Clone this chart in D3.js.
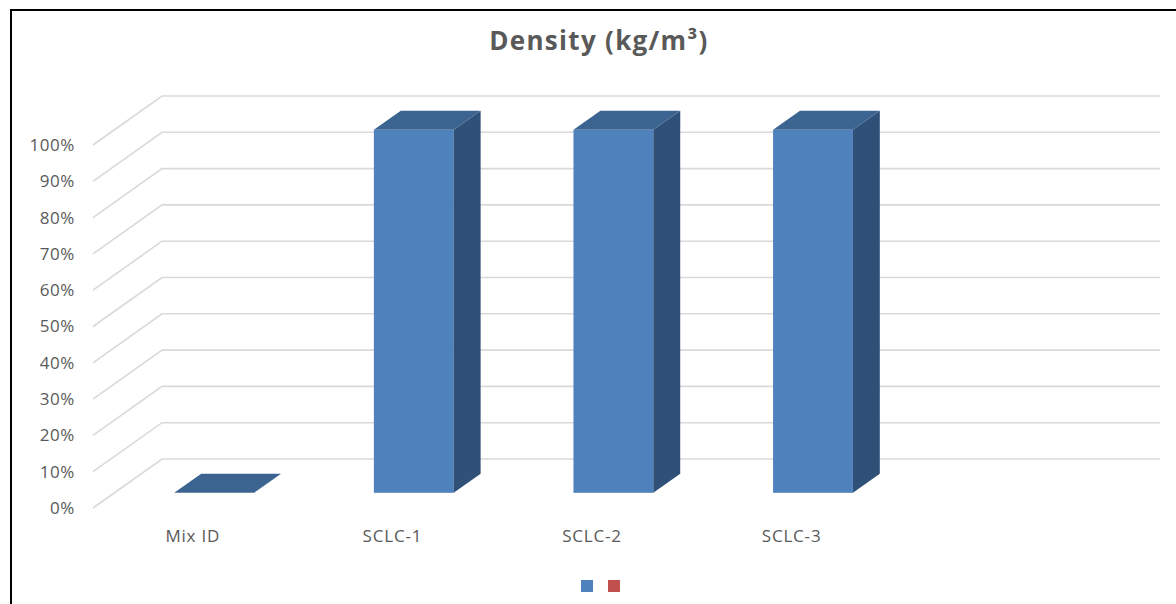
<!DOCTYPE html>
<html>
<head>
<meta charset="utf-8">
<script src="https://cdn.jsdelivr.net/npm/d3@7"></script>
<style>
  body { margin: 0; background: #fff; }
  svg { display: block; font-family: "Open Sans", "Liberation Sans", sans-serif; }
</style>
</head>
<body>
<div id="chart"></div>
<script>
// chart data (100% stacked 3D columns)
var categories = ["Mix ID", "SCLC-1", "SCLC-2", "SCLC-3", ""];
var seriesNames = ["", ""];
var densityShare = [0, 100, 100, 100, null];   // blue series, percent
var secondShare = [0, 0, 0, 0, null];          // red series, percent
var yTicks = [0, 10, 20, 30, 40, 50, 60, 70, 80, 90, 100];
var chartTitle = "Density (kg/m\u00B3)";

var totalWidth = 1176, totalHeight = 604;
var front = { left: 93, right: 1091, bottom: 508, top: 145 };
var depthX = 69, depthY = -49;          // floor depth projection
var barDepth0 = 0.31, barDepth1 = 0.70; // bar position along depth

var colors = {
    front: ["#4F81BD", "#C0504D"],
    top: ["#3C6490", "#95403D"],
    side: ["#2F5077", "#7A3432"]
};

var svg = d3.select('#chart').append('svg')
    .attr('width', totalWidth)
    .attr('height', totalHeight);

// outer border
svg.append('rect')
    .attr('x', 11).attr('y', 10)
    .attr('width', 1200).attr('height', 620)
    .attr('fill', 'white')
    .attr('stroke', '#000').attr('stroke-width', 2);

svg.append('text')
    .attr('x', 599).attr('y', 50)
    .attr('text-anchor', 'middle')
    .attr('font-size', 26).attr('font-weight', 'bold')
    .attr('letter-spacing', 1.3)
    .attr('fill', '#595959')
    .text(chartTitle);

var yScale = d3.scaleLinear().domain([0, 100]).range([front.bottom, front.top]);
var xScale = d3.scaleBand().domain(d3.range(categories.length)).range([front.left, front.right]);
var barWidth = xScale.bandwidth() * 0.4;

// gridlines: front-left diagonal + back wall line
svg.append('g').selectAll('path')
    .data(yTicks)
    .enter()
    .append('path')
    .attr('d', function(t) {
        var y = yScale(t);
        return 'M' + front.left + ',' + y +
            'L' + (front.left + depthX) + ',' + (y + depthY) +
            'L' + (front.right + depthX) + ',' + (y + depthY);
    })
    .attr('fill', 'none')
    .attr('stroke', '#D9D9D9')
    .attr('stroke-width', 1.6);

// y axis
var yAxis = d3.axisLeft(yScale).tickValues(yTicks).tickSize(0).tickPadding(18)
    .tickFormat(function(d) { return d + '%'; });
var yAxisGroup = svg.append('g').attr('transform', 'translate(' + front.left + ',0)').call(yAxis);
yAxisGroup.select('.domain').remove();
yAxisGroup.selectAll('text').attr('fill', '#595959').attr('font-size', 17)
    .attr('letter-spacing', 0.6)
    .attr('font-family', '"Open Sans", sans-serif');

// x axis
var xAxis = d3.axisBottom(xScale).tickSize(0).tickPadding(22)
    .tickFormat(function(i) { return categories[i]; });
var xAxisGroup = svg.append('g').attr('transform', 'translate(0,' + front.bottom + ')').call(xAxis);
xAxisGroup.select('.domain').remove();
xAxisGroup.selectAll('text').attr('fill', '#595959').attr('font-size', 17)
    .attr('letter-spacing', 0.8)
    .attr('font-family', '"Open Sans", sans-serif');

// stacked bars
var stacks = [densityShare, secondShare];
var barsGroup = svg.append('g');
categories.forEach(function(c, i) {
    if (densityShare[i] === null) return;
    var base = 0;
    stacks.forEach(function(series, s) {
        var v = series[i];
        if (v === null) return;
        if (v === 0 && s > 0) return;
        var x0 = xScale(i) + xScale.bandwidth() / 2 - barWidth / 2 + depthX * barDepth0;
        var x1 = x0 + barWidth;
        var dx = depthX * (barDepth1 - barDepth0), dy = depthY * (barDepth1 - barDepth0);
        var yb = yScale(base) + depthY * barDepth0;
        var yt = yScale(base + v) + depthY * barDepth0;
        var g = barsGroup.append('g');
        if (v > 0) {
            g.append('rect')
                .attr('x', x0).attr('y', yt)
                .attr('width', barWidth).attr('height', yb - yt)
                .attr('fill', colors.front[s]);
            g.append('path')
                .attr('d', 'M' + x1 + ',' + yt + 'L' + (x1 + dx) + ',' + (yt + dy) +
                    'L' + (x1 + dx) + ',' + (yb + dy) + 'L' + x1 + ',' + yb + 'Z')
                .attr('fill', colors.side[s]);
        }
        g.append('path')
            .attr('d', 'M' + x0 + ',' + yt + 'L' + (x0 + dx) + ',' + (yt + dy) +
                'L' + (x1 + dx) + ',' + (yt + dy) + 'L' + x1 + ',' + yt + 'Z')
            .attr('fill', colors.top[s]);
        base += v;
    });
});

// legend (series have no names)
var legendScale = d3.scalePoint().domain(d3.range(seriesNames.length)).range([587, 614]);
svg.append('g').selectAll('rect')
    .data(seriesNames)
    .enter()
    .append('rect')
    .attr('x', function(d, i) { return legendScale(i) - 6; })
    .attr('y', 580)
    .attr('width', 12).attr('height', 12)
    .attr('fill', function(d, i) { return colors.front[i]; });
</script>
</body>
</html>
